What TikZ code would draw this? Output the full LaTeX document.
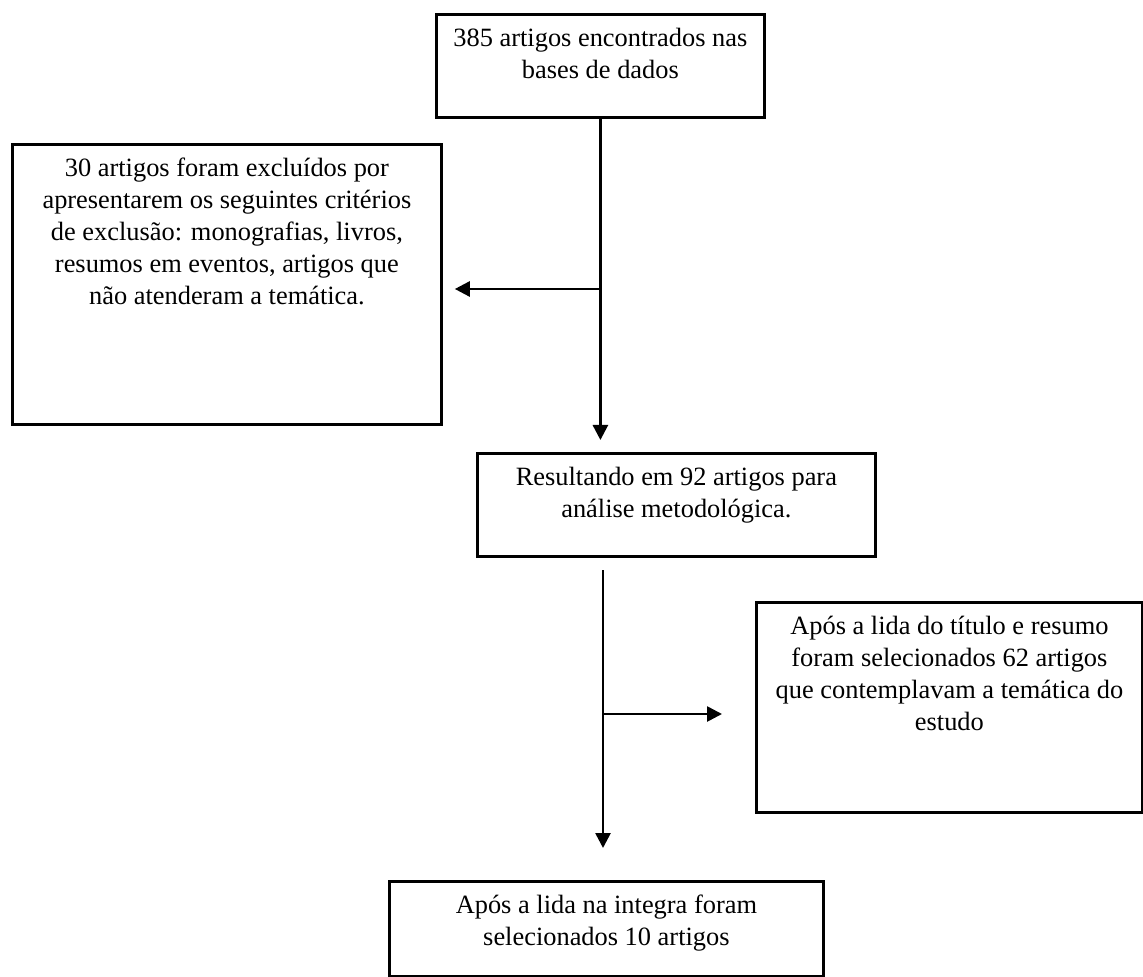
\documentclass[tikz,border=0pt]{standalone}
\usepackage{fontspec}
\setmainfont{Liberation Serif}
\usetikzlibrary{arrows.meta,positioning}

\begin{document}
\begin{tikzpicture}[x=0.5pt,y=-0.5pt,
        etapa/.style={
          draw=black,
          line width=1.4pt,
          anchor=north west,
          inner sep=0pt
        },
        texto/.style={anchor=north, align=center, inner sep=0pt, yshift=-7.5pt,
          font=\fontsize{13.2}{16}\selectfont},
        arrow/.style={-{Triangle[length=7.5pt,width=7.5pt]}, line width=1.3pt}
      ]
        \useasboundingbox (0,0) rectangle (1143,977);

        \node[etapa, minimum width=164pt, minimum height=51.5pt,
          label={[texto]north:{385 artigos encontrados nas\\bases de dados}}] (busca) at (435,13) {};
        \node[etapa, minimum width=214.5pt, minimum height=140pt,
          label={[texto]north:{30 artigos foram excluídos por\\apresentarem os seguintes critérios\\de exclusão: monografias, livros,\\resumos em eventos, artigos que\\não atenderam a temática.}}] (excl) at (11,143) {};
        \node[etapa, minimum width=199pt, minimum height=51.5pt,
          label={[texto]north:{Resultando em 92 artigos para\\análise metodológica.}}] (result) at (476,452) {};
        \node[etapa, minimum width=193pt, minimum height=105pt,
          label={[texto]north:{Após a lida do título e resumo\\foram selecionados 62 artigos\\que contemplavam a temática do\\estudo}}] (sel) at (755,601) {};
        \node[etapa, minimum width=217pt, minimum height=47.5pt,
          label={[texto]north:{Após a lida na integra foram\\selecionados 10 artigos}}] (final) at (388,880) {};

        \coordinate (ramo1) at (599,289);
        \draw[arrow, shorten >=6pt] (busca.south) -- (busca.south |- result.north);
        \draw[arrow, shorten >=6pt] (ramo1) -- (ramo1 -| excl.east);

        \coordinate (inicio) at (603,570);
        \coordinate (ramo2) at (603,714);
        \draw[arrow, shorten >=16pt] (inicio) -- (inicio |- final.north);
        \draw[arrow, shorten >=16.5pt] (ramo2) -- (ramo2 -| sel.west);
      \end{tikzpicture}
\end{document}
